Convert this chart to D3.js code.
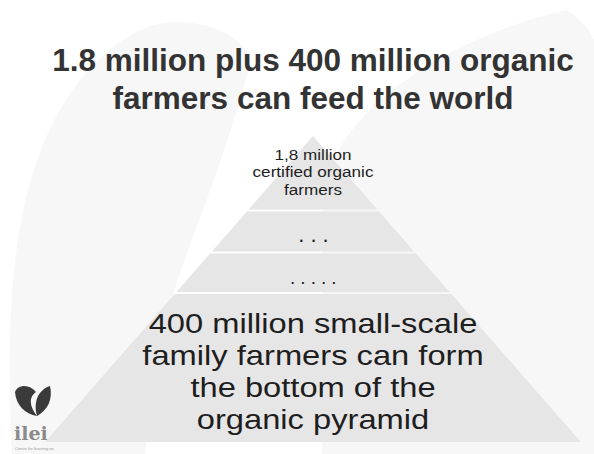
<!DOCTYPE html>
<html>
<head>
<meta charset="utf-8">
<script src="https://cdn.jsdelivr.net/npm/d3@7"></script>
<style>
  html, body { margin: 0; padding: 0; background: #ffffff; }
  svg { display: block; }
</style>
</head>
<body>
<svg id="chart" width="594" height="454"></svg>
<script>
// ---- data ----
const titleLines = ["1.8 million plus 400 million organic", "farmers can feed the world"];
const layerNames = ["certified", "dots3", "dots5", "smallscale"];
// layer boundaries as fraction of pyramid height (0 = apex, 1 = base)
const layerStart = [0, 0.2435, 0.3807, 0.513];
const layerEnd   = [0.2435, 0.3807, 0.513, 1];
const layerText = [
  ["1,8 million", "certified organic", "farmers"],
  ["..."],
  ["....."],
  ["400 million small-scale", "family farmers can form", "the bottom of the", "organic pyramid"]
];
const logoText = "ilei";
const logoSub = "Centre for learning on";

// ---- layout ----
const W = 594, H = 454;
const svg = d3.select("#chart");
const cx = 313;
const yScale = d3.scaleLinear().domain([0, 1]).range([136, 442]);
const xScale = d3.scaleLinear().domain([-1, 1]).range([cx - 268, cx + 268]);
const gap = 1;

// background watermark (faint logo shapes)
const wm = svg.append("g").attr("fill", "#f7f7f7");
wm.append("path").attr("d",
  "M12,454 C6,330 8,200 60,110 C95,50 140,22 175,22 C215,22 240,38 252,58 C235,120 215,180 190,245 C165,310 150,380 145,454 Z");
wm.append("path").attr("d",
  "M566,10 C500,25 420,60 370,110 C345,135 330,160 322,190 L322,454 L594,454 L594,40 C588,28 578,16 566,10 Z");

// logo
const logo = svg.append("g");
logo.append("path").attr("fill", "#3a3a3a").attr("d",
  "M15,392 C18,384 30,384 36,392 C30,396 28,404 37,416 C25,414 16,405 15,392 Z");
logo.append("path").attr("fill", "#3a3a3a").attr("d",
  "M37,416 C33,402 38,390 50,386 C53,399 48,410 37,416 Z");
logo.append("text").attr("x", 14).attr("y", 440)
  .attr("font-family", "'DejaVu Serif', serif").attr("font-weight", "bold")
  .attr("font-size", 19).attr("fill", "#8a8a8a").text(logoText);
logo.append("text").attr("x", 15).attr("y", 450)
  .attr("font-family", "'Liberation Sans', Arial, sans-serif")
  .attr("font-size", 4).attr("fill", "#999").text(logoSub);

// title
svg.append("g").selectAll("text").data(titleLines).join("text")
  .attr("x", cx).attr("y", (d, i) => 71 + i * 37.5)
  .attr("text-anchor", "middle")
  .attr("font-family", "'Liberation Sans', Arial, sans-serif")
  .attr("font-weight", "bold").attr("font-size", 31.5)
  .attr("fill", "#333333").text(d => d);

// pyramid layers
const layers = layerNames.map((n, i) => ({ name: n, t0: layerStart[i], t1: layerEnd[i], lines: layerText[i] }));
function ptsFor(d) {
  const yTop = yScale(d.t0) + (d.t0 > 0 ? gap : 0);
  const yBot = yScale(d.t1) - (d.t1 < 1 ? gap : 0);
  const tTop = yScale.invert(yTop), tBot = yScale.invert(yBot);
  return [[xScale(-tTop), yTop], [xScale(tTop), yTop], [xScale(tBot), yBot], [xScale(-tBot), yBot]];
}
svg.append("g").selectAll("path").data(layers).join("path")
  .attr("d", d => d3.line()(ptsFor(d)) + "Z")
  .attr("fill", "#e6e6e6");

// layer text
const font = "'Liberation Sans', Arial, sans-serif";
const tg = svg.append("g").attr("font-family", font).attr("fill", "#1e1e1e").attr("text-anchor", "middle");
// top layer (slightly widened glyphs as in the slide)
tg.selectAll("text.t0").data(layers[0].lines).join("text").attr("class", "t0")
  .attr("transform", (d, i) => `translate(${cx},${159.5 + i * 17.8}) scale(1.12,1)`)
  .attr("font-size", 15.3).text(d => d);
// dots layers
tg.append("text").attr("x", cx + 3.5).attr("y", yScale((layers[1].t0 + layers[1].t1) / 2) + 10)
  .attr("font-size", 22).attr("letter-spacing", 6).text(layers[1].lines[0]);
tg.append("text").attr("x", cx + 2.8).attr("y", yScale((layers[2].t0 + layers[2].t1) / 2) + 11)
  .attr("font-size", 19).attr("letter-spacing", 5).text(layers[2].lines[0]);
// bottom layer
tg.selectAll("text.t3").data(layers[3].lines).join("text").attr("class", "t3")
  .attr("transform", (d, i) => `translate(${cx},${332.5 + i * 32.2}) scale(1.18,1)`)
  .attr("font-size", 27.7).text(d => d);
</script>
</body>
</html>
